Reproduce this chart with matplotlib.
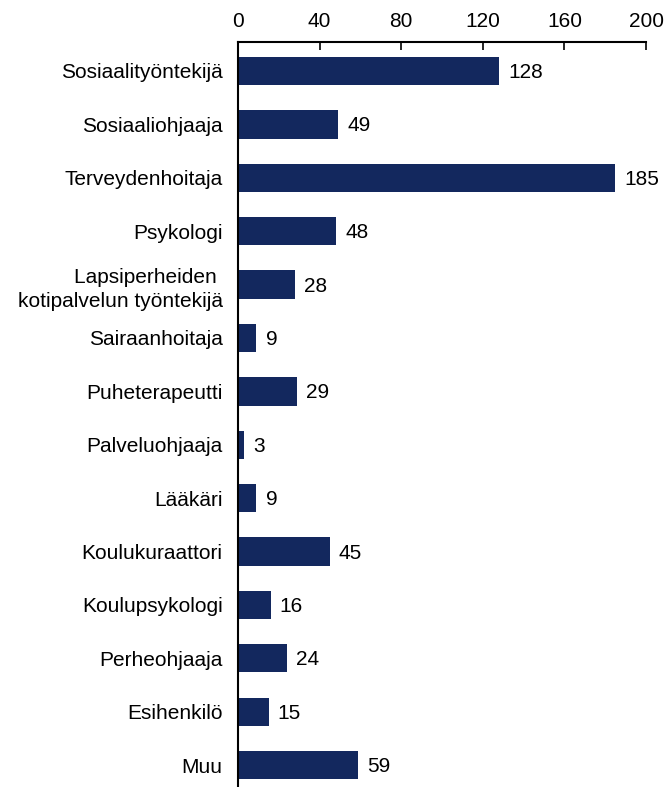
import matplotlib.pyplot as plt

plt.rcParams['font.family'] = ['Liberation Sans', 'DejaVu Sans']

categories = [
    "Sosiaalityöntekijä",
    "Sosiaaliohjaaja",
    "Terveydenhoitaja",
    "Psykologi",
    "Lapsiperheiden \nkotipalvelun työntekijä",
    "Sairaanhoitaja",
    "Puheterapeutti",
    "Palveluohjaaja",
    "Lääkäri",
    "Koulukuraattori",
    "Koulupsykologi",
    "Perheohjaaja",
    "Esihenkilö",
    "Muu",
]
values = [128, 49, 185, 48, 28, 9, 29, 3, 9, 45, 16, 24, 15, 59]
xticks = [0, 40, 80, 120, 160, 200]

fs = 15

fig = plt.figure(figsize=(6.69, 7.87), dpi=100)
ax = fig.add_axes([238 / 669, 0.0, (646 - 238) / 669, 1 - 42 / 787])

pos = list(range(len(categories)))
ax.barh(pos, values, height=0.53, color="#13285e")

for p, v in zip(pos, values):
    ax.text(v + 4.5, p + 0.03, str(v), va="center", ha="left", fontsize=fs)

ax.set_xlim(0, 200)
ax.set_ylim(13.41, -0.543)
ax.set_xticks(xticks)
ax.set_yticks(pos)
ax.set_yticklabels(categories, fontsize=fs, linespacing=1.35)
ax.xaxis.tick_top()
ax.tick_params(axis="x", direction="in", length=6, width=1.2, labelsize=fs, pad=8)
ax.tick_params(axis="y", length=0, pad=11)

for s in ["right", "bottom"]:
    ax.spines[s].set_visible(False)
ax.spines["top"].set_linewidth(1.5)
ax.spines["left"].set_linewidth(1.5)

fig.savefig("out.png", dpi=100)
